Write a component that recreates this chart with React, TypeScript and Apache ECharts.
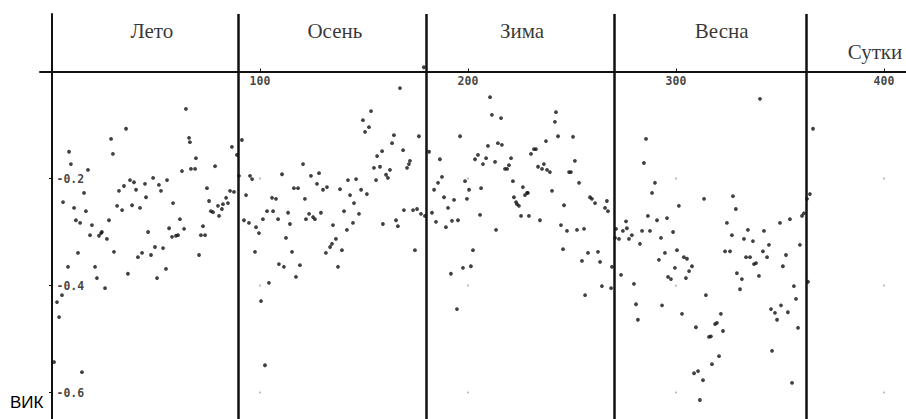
import React, { useEffect, useRef } from "react";
import * as echarts from "echarts";

// [day, VIK] readings per season
const summer: number[][] = [
  [1.0,-0.543],[2.4,-0.431],[3.4,-0.459],[4.8,-0.418],[5.3,-0.244],[7.7,-0.365],[8.2,-0.150],[9.1,-0.173],
  [10.6,-0.255],[11.5,-0.278],[12.5,-0.339],[13.5,-0.283],[14.4,-0.562],[15.4,-0.227],[16.3,-0.261],[17.3,-0.184],
  [18.3,-0.306],[19.2,-0.287],[20.7,-0.365],[21.6,-0.386],[22.6,-0.307],[23.6,-0.302],[24.0,-0.300],[25.5,-0.405],
  [26.4,-0.313],[27.4,-0.278],[28.4,-0.126],[29.3,-0.154],[29.8,-0.337],[31.3,-0.251],[32.2,-0.223],[33.7,-0.259],
  [34.6,-0.214],[35.6,-0.107],[36.5,-0.378],[37.5,-0.203],[38.5,-0.250],[39.4,-0.207],[40.4,-0.221],[41.3,-0.347],
  [42.3,-0.255],[43.3,-0.339],[44.7,-0.210],[45.2,-0.235],[46.2,-0.300],[47.6,-0.343],[48.6,-0.199],[49.5,-0.328],
  [50.5,-0.386],[51.4,-0.212],[52.4,-0.223],[53.4,-0.330],[54.8,-0.369],[55.3,-0.203],[56.3,-0.293],[57.7,-0.309],
  [58.2,-0.246],[59.6,-0.307],[60.6,-0.306],[61.5,-0.276],[62.5,-0.186],[63.5,-0.294],[64.4,-0.070],[65.9,-0.124],
  [66.3,-0.132],[66.8,-0.182],[68.8,-0.182],[69.2,-0.162],[70.7,-0.343],[71.6,-0.306],[72.6,-0.289],[73.6,-0.306],
  [74.5,-0.218],[75.5,-0.242],[76.4,-0.261],[77.4,-0.263],[78.4,-0.177],[79.8,-0.251],[80.3,-0.270],[81.7,-0.257],
  [82.2,-0.248],[83.7,-0.236],[84.6,-0.246],[85.6,-0.223],[86.5,-0.141],[87.5,-0.225],[88.9,-0.156],
];

const autumn: number[][] = [
  [89.9,-0.195],[91.3,-0.128],[92.3,-0.278],[93.3,-0.231],[94.7,-0.283],[95.2,-0.195],[96.2,-0.201],[97.6,-0.337],
  [98.1,-0.291],[99.5,-0.302],[100.5,-0.429],[101.4,-0.276],[102.4,-0.549],[103.4,-0.261],[104.3,-0.395],[105.8,-0.236],
  [106.3,-0.261],[107.7,-0.238],[108.7,-0.276],[109.1,-0.360],[110.6,-0.192],[111.5,-0.365],[112.5,-0.311],[113.5,-0.264],
  [114.4,-0.285],[115.4,-0.337],[116.3,-0.218],[117.3,-0.384],[118.3,-0.218],[119.2,-0.362],[120.7,-0.173],[121.6,-0.238],
  [122.1,-0.276],[123.6,-0.266],[124.5,-0.195],[125.5,-0.272],[126.4,-0.276],[127.4,-0.210],[128.4,-0.190],[129.3,-0.264],
  [130.3,-0.221],[131.7,-0.339],[132.2,-0.216],[133.7,-0.328],[134.6,-0.322],[135.1,-0.287],[136.5,-0.313],[137.5,-0.365],
  [138.5,-0.220],[139.4,-0.334],[140.4,-0.261],[141.8,-0.296],[142.3,-0.203],[143.3,-0.231],[144.7,-0.283],[145.2,-0.246],
  [146.2,-0.201],[147.6,-0.266],[148.6,-0.221],[149.5,-0.091],[150.5,-0.113],[151.4,-0.229],[152.4,-0.104],[153.4,-0.074],
  [154.8,-0.180],[155.8,-0.203],[156.3,-0.158],[157.7,-0.178],[158.7,-0.149],[159.1,-0.285],[160.6,-0.193],[161.5,-0.199],
  [162.5,-0.184],[163.5,-0.134],[164.4,-0.119],[165.4,-0.278],[166.3,-0.289],[167.3,-0.031],[168.8,-0.147],[169.2,-0.259],
  [170.7,-0.180],[171.6,-0.173],[172.1,-0.167],[173.6,-0.259],[174.5,-0.334],[175.5,-0.257],[176.4,-0.121],[177.4,-0.266],
  [178.8,0.008],[179.3,-0.270],
];

const winter: number[][] = [
  [181.3,-0.150],[182.7,-0.264],[183.7,-0.221],[184.6,-0.281],[185.6,-0.208],[186.5,-0.164],[187.5,-0.197],[188.5,-0.235],
  [189.4,-0.291],[190.4,-0.255],[191.8,-0.378],[192.3,-0.279],[193.3,-0.240],[194.7,-0.444],[195.2,-0.278],[196.2,-0.121],
  [197.6,-0.367],[198.6,-0.205],[199.5,-0.238],[200.5,-0.221],[201.4,-0.364],[202.4,-0.334],[203.4,-0.164],[204.8,-0.156],
  [205.8,-0.268],[206.3,-0.218],[207.2,-0.173],[208.7,-0.162],[209.6,-0.139],[210.6,-0.048],[211.5,-0.081],[213.0,-0.169],
  [213.5,-0.296],[214.4,-0.134],[215.9,-0.087],[216.3,-0.137],[217.8,-0.182],[218.8,-0.182],[219.7,-0.175],[220.7,-0.162],
  [221.6,-0.205],[222.1,-0.235],[223.1,-0.244],[223.6,-0.248],[224.5,-0.251],[225.5,-0.270],[226.4,-0.216],[227.4,-0.231],
  [228.4,-0.227],[228.8,-0.227],[229.3,-0.270],[230.3,-0.154],[231.7,-0.145],[232.7,-0.145],[233.7,-0.178],[234.6,-0.278],
  [235.6,-0.182],[236.5,-0.173],[237.5,-0.130],[238.0,-0.184],[239.4,-0.188],[240.4,-0.223],[241.8,-0.094],[242.3,-0.076],
  [243.3,-0.121],[244.7,-0.287],[245.7,-0.332],[246.2,-0.250],[247.6,-0.298],[248.6,-0.188],[249.5,-0.188],[250.5,-0.122],
  [251.4,-0.167],[252.4,-0.296],[253.4,-0.208],[254.8,-0.354],[255.8,-0.294],[256.3,-0.418],[257.7,-0.339],[258.7,-0.235],
  [259.6,-0.238],[261.1,-0.246],[262.5,-0.337],[263.5,-0.356],[264.4,-0.401],[265.9,-0.255],[266.8,-0.242],[267.3,-0.261],
  [268.8,-0.405],[269.2,-0.365],
];

const spring: number[][] = [
  [270.7,-0.311],[271.2,-0.294],[272.6,-0.313],[273.6,-0.380],[274.5,-0.298],[276.0,-0.280],[276.4,-0.293],[277.4,-0.313],
  [278.8,-0.306],[279.8,-0.397],[280.8,-0.435],[281.7,-0.464],[282.7,-0.322],[283.7,-0.298],[284.6,-0.171],[285.6,-0.126],
  [286.5,-0.270],[287.5,-0.298],[288.5,-0.227],[289.9,-0.208],[290.9,-0.278],[291.8,-0.352],[292.8,-0.311],[293.3,-0.437],
  [294.7,-0.339],[295.7,-0.274],[296.2,-0.384],[297.6,-0.388],[298.6,-0.300],[299.5,-0.367],[300.5,-0.334],[301.4,-0.251],
  [302.9,-0.453],[303.8,-0.347],[304.8,-0.386],[305.3,-0.350],[306.3,-0.373],[307.7,-0.364],[308.7,-0.564],[309.6,-0.478],
  [310.6,-0.560],[311.5,-0.614],[313.0,-0.577],[313.5,-0.238],[314.4,-0.418],[315.9,-0.496],[316.8,-0.495],[317.3,-0.547],
  [318.8,-0.472],[319.7,-0.470],[320.7,-0.532],[321.6,-0.453],[322.6,-0.485],[323.6,-0.336],[324.5,-0.283],[326.0,-0.336],
  [326.9,-0.306],[327.4,-0.233],[328.8,-0.257],[329.3,-0.377],[330.8,-0.407],[331.7,-0.388],[332.7,-0.313],[333.7,-0.347],
  [334.6,-0.296],[335.6,-0.347],[337.0,-0.317],[337.5,-0.360],[338.5,-0.358],[339.9,-0.382],[340.4,-0.051],[341.8,-0.336],
  [342.3,-0.298],[343.8,-0.347],[344.7,-0.324],[345.7,-0.444],[346.2,-0.522],[347.6,-0.451],[348.6,-0.464],[350.0,-0.283],
  [350.5,-0.437],[351.4,-0.364],[352.9,-0.343],[353.8,-0.450],[354.8,-0.276],[355.8,-0.582],[356.7,-0.401],[357.7,-0.425],
  [358.7,-0.479],[359.6,-0.324],[360.6,-0.270],[361.5,-0.265],[363.0,-0.238],[363.5,-0.393],[364.4,-0.229],[365.9,-0.107],
];

const seasonBounds = [89.5, 180, 270.5, 362.5];
const seasonNames = ["Лето", "Осень", "Зима", "Весна"];
const seasonLabelDays = [48, 136, 226, 322];
const seasonLabelLevel = 0.076;
const xTicks = [100, 200, 300, 400];
const yTicks = [-0.2, -0.4, -0.6];
const xName = "Сутки";
const yName = "ВИК";

export default function App() {
  const ref = useRef<HTMLDivElement>(null);
  useEffect(() => {
    if (!ref.current) return;
    const chart = echarts.init(ref.current, null, { renderer: "svg" });
    const allPoints = [...summer, ...autumn, ...winter, ...spring];
    const gridDots: number[][] = [];
    xTicks.forEach((x) => yTicks.forEach((y) => gridDots.push([x, y])));
    const labelData: any[] = seasonNames.map((n, i) => [seasonLabelDays[i], seasonLabelLevel, n]);
    labelData.push([395.7, 0.0364, xName]);
    const monoFont = {
      fontFamily: "DejaVu Sans Mono",
      fontWeight: "bold" as const,
      fontSize: 11.5,
      color: "#111",
    };
    chart.setOption({
      animation: false,
      backgroundColor: "#fff",
      grid: { left: 40, right: 0, top: 14, bottom: 0, containLabel: false },
      xAxis: {
        type: "value",
        min: -5.77,
        max: 410.6,
        splitLine: { show: false },
        axisLine: { onZero: true, lineStyle: { color: "#111", width: 2 } },
        axisTick: { show: true, customValues: xTicks, length: 3, inside: true, lineStyle: { color: "#111" } },
        axisLabel: { show: false },
      },
      yAxis: {
        type: "value",
        min: -0.6495,
        max: 0.1075,
        splitLine: { show: false },
        axisLine: { onZero: true, lineStyle: { color: "#111", width: 2 } },
        axisTick: { show: true, customValues: yTicks, length: 3, lineStyle: { color: "#111" } },
        axisLabel: { show: false },
      },
      series: [
        {
          type: "scatter",
          data: gridDots,
          symbolSize: 2,
          itemStyle: { color: "#aaa" },
          silent: true,
          z: 1,
        },
        {
          type: "scatter",
          data: allPoints,
          symbolSize: 3.8,
          itemStyle: { color: "#111" },
          z: 3,
          markLine: {
            silent: true,
            symbol: "none",
            label: { show: false },
            lineStyle: { color: "#111", width: 2.5, type: "solid" },
            data: seasonBounds.map((x) => ({ xAxis: x })),
          },
        },
        {
          // x tick labels, below the zero line
          type: "scatter",
          data: xTicks.map((x) => [x, 0]),
          symbolSize: 1,
          itemStyle: { color: "transparent" },
          silent: true,
          label: {
            show: true,
            position: "bottom",
            distance: 3,
            formatter: (p: any) => String(p.data[0]),
            ...monoFont,
          },
          z: 4,
        },
        {
          // y tick labels, right of the zero line
          type: "scatter",
          data: yTicks.map((y) => [0, y]),
          symbolSize: 1,
          itemStyle: { color: "transparent" },
          silent: true,
          label: {
            show: true,
            position: "right",
            distance: 4,
            formatter: (p: any) => p.data[1].toFixed(1),
            ...monoFont,
          },
          z: 4,
        },
        {
          type: "scatter",
          data: labelData,
          symbolSize: 1,
          itemStyle: { color: "transparent" },
          silent: true,
          label: {
            show: true,
            position: "inside",
            formatter: (p: any) => p.data[2],
            fontFamily: "Liberation Serif",
            fontSize: 21,
            color: "#000",
          },
          z: 4,
        },
      ],
      graphic: [
        {
          type: "text",
          left: 10,
          top: 394,
          style: { text: yName, font: "17px 'Liberation Sans'", fill: "#000" },
        },
      ],
    });
    return () => chart.dispose();
  }, []);
  return (
    <div
      ref={ref}
      style={{ position: "absolute", left: 0, top: 0, width: 906, height: 419 }}
    />
  );
}
